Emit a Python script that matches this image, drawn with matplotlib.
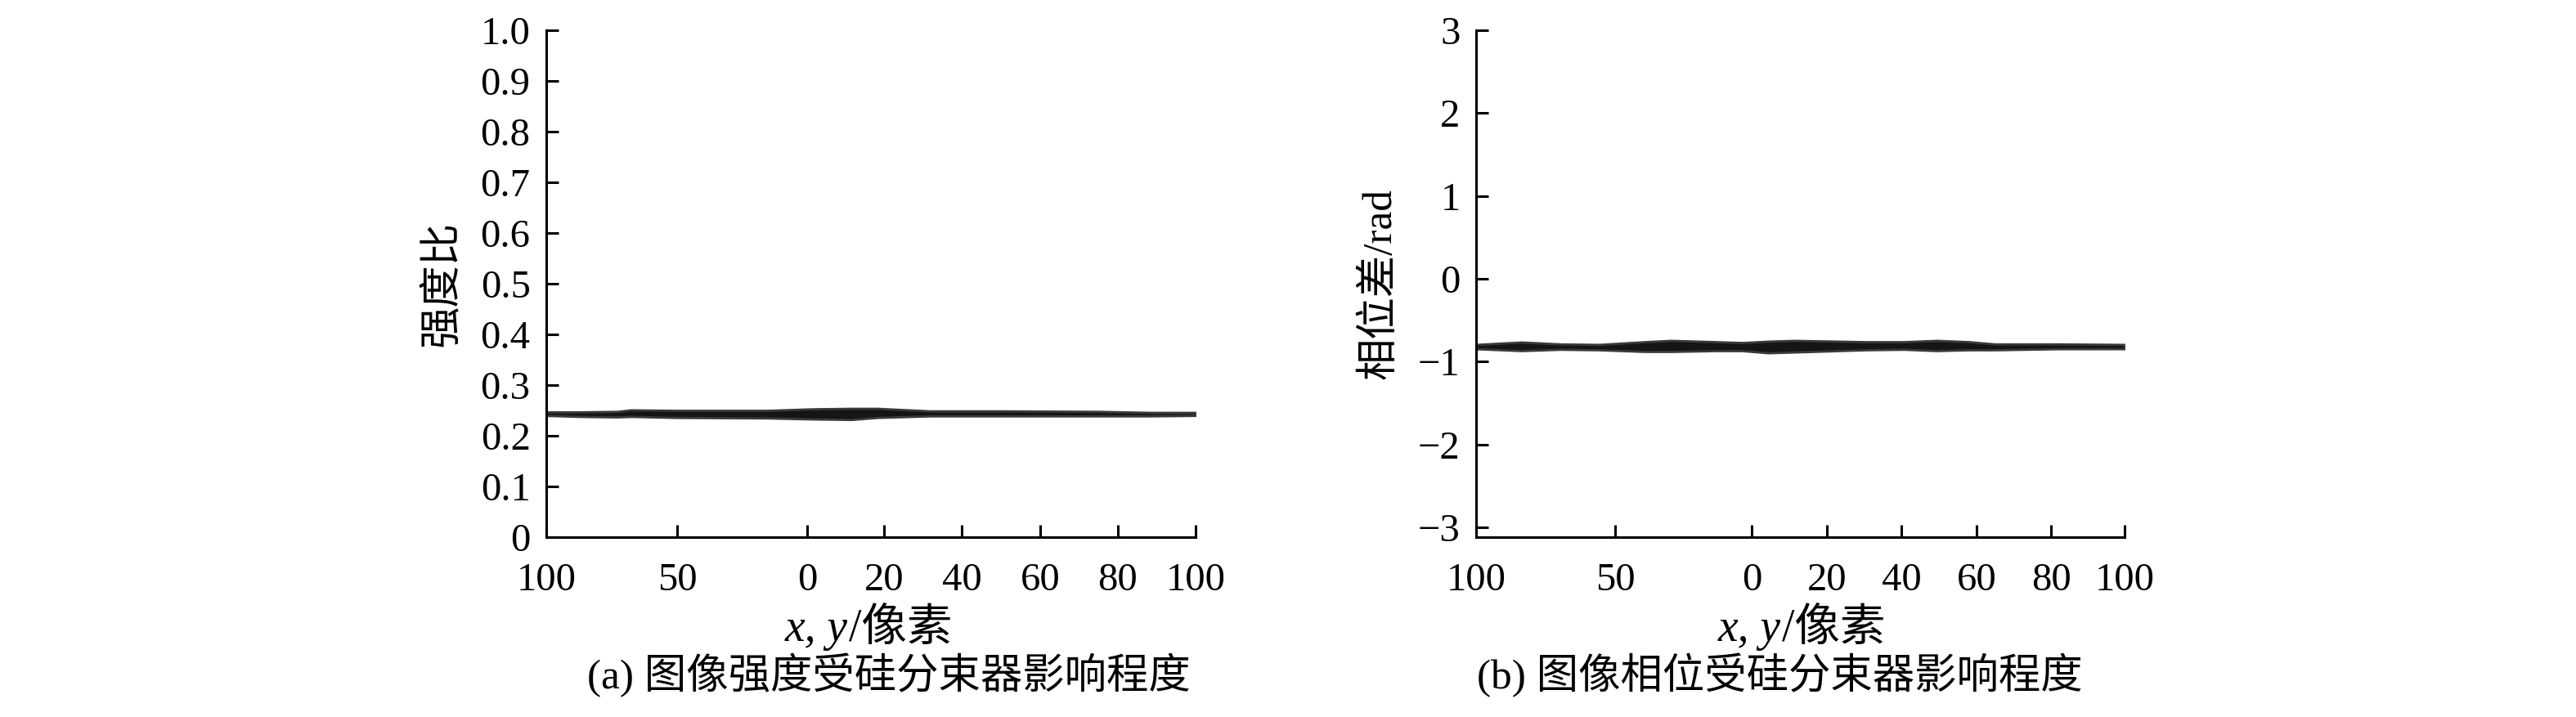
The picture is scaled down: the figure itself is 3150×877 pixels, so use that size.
import numpy as np
import matplotlib
matplotlib.use('Agg')
import matplotlib.pyplot as plt

plt.rcParams['font.family'] = ['Liberation Serif', 'Noto Sans CJK SC']

# x axis: position along axis (0..1) and labels printed there
x_tick_pos_a = [0.0, 0.202, 0.402, 0.520, 0.640, 0.761, 0.880, 1.0]
x_tick_pos_b = [0.0, 0.215, 0.425, 0.541, 0.656, 0.772, 0.887, 1.0]
x_tick_labels = ['100', '50', '0', '20', '40', '60', '80', '100']

# (a) intensity ratio band
u_a = [0.00, 0.05, 0.11, 0.13, 0.20, 0.34, 0.41, 0.47, 0.51, 0.59, 0.70, 0.85, 0.93, 1.00]
up_a = [0.247, 0.247, 0.248, 0.251, 0.250, 0.250, 0.253, 0.254, 0.254, 0.249, 0.249, 0.248, 0.246, 0.246]
lo_a = [0.240, 0.238, 0.237, 0.238, 0.236, 0.235, 0.233, 0.232, 0.236, 0.239, 0.239, 0.239, 0.239, 0.240]

# (b) phase difference band
u_b = [0.00, 0.07, 0.13, 0.19, 0.26, 0.30, 0.37, 0.41, 0.45, 0.49, 0.60, 0.66, 0.71, 0.76, 0.80, 0.90, 1.00]
up_b = [-0.794, -0.765, -0.788, -0.794, -0.761, -0.745, -0.761, -0.771, -0.755, -0.745,
        -0.761, -0.761, -0.745, -0.761, -0.788, -0.788, -0.794]
lo_b = [-0.846, -0.869, -0.853, -0.859, -0.879, -0.879, -0.869, -0.869, -0.895, -0.886,
        -0.859, -0.853, -0.869, -0.859, -0.859, -0.846, -0.846]

fs = 35
fs_cn = 37
fs_xl = 40

fig = plt.figure(figsize=(31.5, 8.77), dpi=100)
ax1 = fig.add_axes([668 / 3150, 1 - 657 / 877, 794 / 3150, 620 / 877])
ax2 = fig.add_axes([1805 / 3150, 1 - 657 / 877, 793 / 3150, 620 / 877])


def style(ax, tick_pos):
    for s in ['top', 'right']:
        ax.spines[s].set_visible(False)
    for s in ['left', 'bottom']:
        ax.spines[s].set_linewidth(2.2)
    ax.set_xlim(0, 1)
    ax.set_xticks(tick_pos)
    ax.set_xticklabels(x_tick_labels)
    ax.tick_params(direction='in', length=11, width=2.2, labelsize=fs, pad=14)
    ax.tick_params(axis='x', pad=22)


style(ax1, x_tick_pos_a)
ax1.fill_between(u_a, lo_a, up_a, color='#151515', lw=2, edgecolor='#3a3a3a')
ax1.set_ylim(0, 1.0)
ax1.set_yticks(np.arange(0, 1.01, 0.1))
ax1.set_yticklabels(['0'] + ['%.1f' % v for v in np.arange(0.1, 1.01, 0.1)])
ax1.set_ylabel('强度比', fontsize=fs_cn, labelpad=16)

style(ax2, x_tick_pos_b)
ax2.fill_between(u_b, lo_b, up_b, color='#151515', lw=2, edgecolor='#3a3a3a')
ax2.set_ylim(-3.12, 3)
ax2.set_yticks([-3, -2, -1, 0, 1, 2, 3])
ax2.set_yticklabels(['\u22123', '\u22122', '\u22121', '0', '1', '2', '3'])
ax2.set_ylabel('相位差/rad', fontsize=fs_cn, labelpad=16)

fig.text(1087 / 3150, 1 - 826 / 877, '(a) 图像强度受硅分束器影响程度', fontsize=fs_cn,
         ha='center', va='center')
fig.text(2176 / 3150, 1 - 826 / 877, '(b) 图像相位受硅分束器影响程度', fontsize=fs_cn,
         ha='center', va='center')

# x label "x, y/像素" : italic part + upright part, placed side by side
renderer = fig.canvas.get_renderer()
for cx in [1061, 2202]:
    t1 = fig.text(0, 0, 'x, y', fontsize=fs_xl, style='italic', family='Liberation Serif',
                  ha='left', va='baseline')
    t2 = fig.text(0, 0, '/像素', fontsize=fs_xl, ha='left', va='baseline')
    w1 = t1.get_window_extent(renderer).width
    w2 = t2.get_window_extent(renderer).width
    left = cx - (w1 + w2) / 2
    yb = 1 - 784 / 877
    t1.set_position((left / 3150, yb))
    t2.set_position(((left + w1 + 2) / 3150, yb))

fig.savefig('out.png', dpi=100, facecolor='white')
